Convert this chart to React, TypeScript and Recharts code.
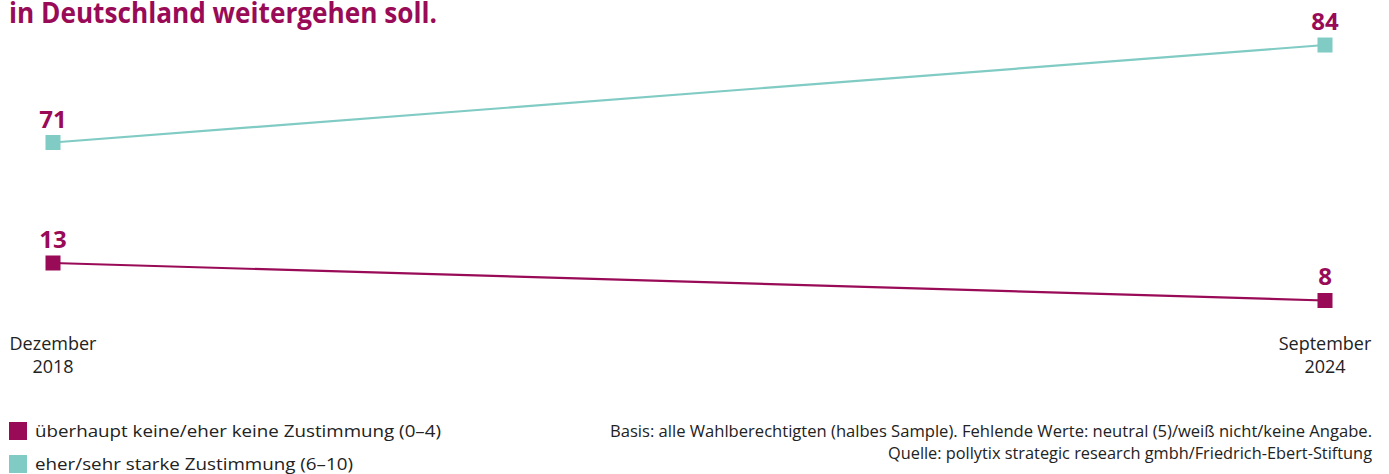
import { LabelList, Line, LineChart, XAxis, YAxis } from "recharts";

const periods = ["Dezember 2018", "September 2024"];
const disagreeValues = [13, 8];
const agreeValues = [71, 84];

const legendItems = [
  { label: "überhaupt keine/eher keine Zustimmung (0–4)", color: "#990a57", width: 406 },
  { label: "eher/sehr starke Zustimmung (6–10)", color: "#80cbc4", width: 318 },
];

const MAGENTA = "#990a57";
const TEAL = "#80cbc4";
const FONT = "'Open Sans', 'Noto Sans', sans-serif";

const data = periods.map((period, i) => ({
  period,
  disagree: disagreeValues[i],
  agree: agreeValues[i],
}));

function SquareDot(props: any) {
  const { cx, cy, fill } = props;
  if (cx == null || cy == null) return null;
  return <rect x={cx - 7.5} y={cy - 7.5} width={15} height={15} fill={fill} />;
}

function ValueLabel(props: any) {
  const { x, y, value } = props;
  return (
    <text x={x} y={y - 15} textAnchor="middle" fill={MAGENTA} fontSize={24} fontWeight={700} fontFamily={FONT}>
      {value}
    </text>
  );
}

function PeriodTick(props: any) {
  const { x, y, payload } = props;
  const [month, year] = String(payload.value).split(" ");
  return (
    <g>
      <text x={x} y={y + 22} textAnchor="middle" fill="#222" fontSize={18} fontFamily={FONT}>
        {month}
      </text>
      <text x={x} y={y + 45} textAnchor="middle" fill="#222" fontSize={18} fontFamily={FONT}>
        {year}
      </text>
    </g>
  );
}

export default function App() {
  return (
    <div style={{ position: "absolute", left: 0, top: 0, width: 1389, height: 474, background: "#fff", overflow: "hidden" }}>
      <svg style={{ position: "absolute", left: 0, top: 0 }} width={1389} height={40}>
        <text x={9} y={23} fill={MAGENTA} fontSize={28} fontWeight={700} fontFamily={FONT} textLength={428} lengthAdjust="spacingAndGlyphs">
          in Deutschland weitergehen soll.
        </text>
      </svg>

      <div style={{ position: "absolute", left: 0, top: 0 }}>
        <LineChart width={1389} height={380} data={data} margin={{ top: 10, right: 64, bottom: 0, left: 53 }}>
          <XAxis dataKey="period" axisLine={false} tickLine={false} height={60} tick={<PeriodTick />} interval={0} />
          <YAxis yAxisId="upper" hide domain={[47.33, 88.67]} allowDataOverflow />
          <YAxis yAxisId="lower" hide domain={[5.4, 46.73]} allowDataOverflow />
          <Line
            yAxisId="upper"
            type="linear"
            dataKey="agree"
            stroke={TEAL}
            strokeWidth={2.2}
            dot={<SquareDot fill={TEAL} />}
            activeDot={false}
            isAnimationActive={false}
          >
            <LabelList dataKey="agree" content={<ValueLabel />} />
          </Line>
          <Line
            yAxisId="lower"
            type="linear"
            dataKey="disagree"
            stroke={MAGENTA}
            strokeWidth={2.2}
            dot={<SquareDot fill={MAGENTA} />}
            activeDot={false}
            isAnimationActive={false}
          >
            <LabelList dataKey="disagree" content={<ValueLabel />} />
          </Line>
        </LineChart>
      </div>

      <svg style={{ position: "absolute", left: 0, top: 410 }} width={1389} height={64}>
        {legendItems.map((item, i) => (
          <g key={item.label}>
            <rect x={9} y={12 + i * 33} width={18} height={18} fill={item.color} />
            <text x={35} y={27 + i * 33} fill="#222" fontSize={17} fontFamily={FONT} textLength={item.width} lengthAdjust="spacingAndGlyphs">
              {item.label}
            </text>
          </g>
        ))}
        <text x={1372} y={27} textAnchor="end" fill="#222" fontSize={16} fontFamily={FONT} textLength={762} lengthAdjust="spacingAndGlyphs">
          Basis: alle Wahlberechtigten (halbes Sample). Fehlende Werte: neutral (5)/weiß nicht/keine Angabe.
        </text>
        <text x={1372} y={49} textAnchor="end" fill="#222" fontSize={16} fontFamily={FONT} textLength={484} lengthAdjust="spacingAndGlyphs">
          Quelle: pollytix strategic research gmbh/Friedrich-Ebert-Stiftung
        </text>
      </svg>
    </div>
  );
}
